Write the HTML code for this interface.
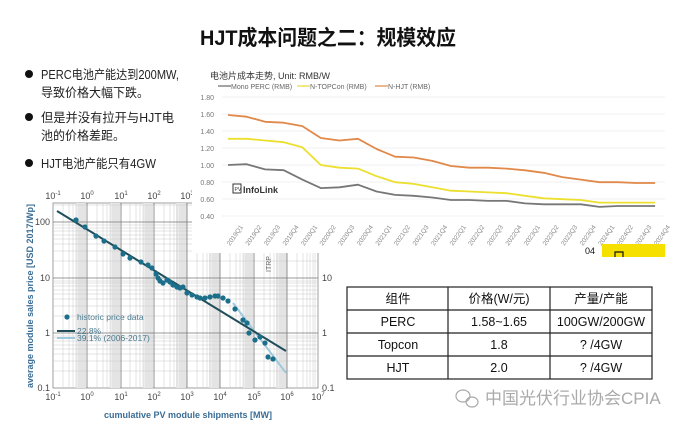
<!DOCTYPE html>
<html><head><meta charset="utf-8">
<style>
body{margin:0;width:680px;height:429px;background:#fff;overflow:hidden;font-family:"Liberation Sans","Noto Sans CJK SC",sans-serif;}
svg{position:absolute;left:0;top:0}
</style></head><body>
<svg width="680" height="429" viewBox="0 0 680 429" xmlns="http://www.w3.org/2000/svg" font-family="Liberation Sans, Noto Sans CJK SC, sans-serif">
<!-- title -->
<text x="200" y="45" textLength="256" lengthAdjust="spacingAndGlyphs" font-size="21" font-weight="bold" fill="#111">HJT成本问题之二：规模效应</text>
<!-- bullets -->
<g font-size="12.5" fill="#222">
<circle cx="29" cy="74" r="4" fill="#111"/>
<text x="41" y="79" textLength="138" lengthAdjust="spacingAndGlyphs">PERC电池产能达到200MW,</text>
<text x="41" y="97" textLength="108" lengthAdjust="spacingAndGlyphs">导致价格大幅下跌。</text>
<circle cx="29" cy="117" r="4" fill="#111"/>
<text x="41" y="122" textLength="133" lengthAdjust="spacingAndGlyphs">但是并没有拉开与HJT电</text>
<text x="41" y="140" textLength="84" lengthAdjust="spacingAndGlyphs">池的价格差距。</text>
<circle cx="29" cy="163" r="4" fill="#111"/>
<text x="41" y="168" textLength="115" lengthAdjust="spacingAndGlyphs">HJT电池产能只有4GW</text>
</g>

<!-- log chart -->
<g id="log">
<rect x="53" y="203" width="265" height="185" fill="#fff" stroke="#888" stroke-width="0.8"/>
<g fill="#eeeeee">
<rect x="76" y="203" width="10" height="185"/><rect x="110" y="203" width="10" height="185"/><rect x="143" y="203" width="10" height="185"/><rect x="176" y="203" width="10" height="185"/><rect x="209" y="203" width="10" height="185"/><rect x="243" y="203" width="10" height="185"/><rect x="276" y="203" width="10" height="185"/>
</g>
<g stroke="#c8c8c8" stroke-width="0.5">
<path d="M63 203V388M69 203V388M73 203V388M76 203V388M79 203V388M81 203V388M83 203V388M85 203V388
M97 203V388M103 203V388M107 203V388M110 203V388M113 203V388M115 203V388M117 203V388M119 203V388
M130 203V388M136 203V388M140 203V388M143 203V388M146 203V388M148 203V388M150 203V388M152 203V388
M164 203V388M170 203V388M174 203V388M177 203V388M180 203V388M182 203V388M184 203V388M186 203V388
M197 203V388M203 203V388M207 203V388M210 203V388M213 203V388M215 203V388M217 203V388M219 203V388
M230 203V388M236 203V388M240 203V388M243 203V388M246 203V388M248 203V388M250 203V388M252 203V388
M264 203V388M270 203V388M274 203V388M277 203V388M280 203V388M282 203V388M284 203V388M286 203V388
M297 203V388M303 203V388M307 203V388M310 203V388M313 203V388M315 203V388"/>
<path d="M53 371H318M53 361H318M53 354H318M53 349H318M53 345H318M53 341H318M53 338H318M53 336H318
M53 316H318M53 306H318M53 299H318M53 294H318M53 290H318M53 286H318M53 283H318M53 281H318
M53 261H318M53 251H318M53 244H318M53 239H318M53 235H318M53 231H318M53 228H318M53 225H318
M53 205H318"/>
</g>
<g stroke="#777" stroke-width="0.8">
<path d="M87 203V388M121 203V388M154 203V388M187 203V388M220 203V388M254 203V388M287 203V388M53 222H318M53 278H318M53 333H318"/>
</g>
<line x1="233" y1="303" x2="286" y2="373" stroke="#9fc9dc" stroke-width="2"/>
<line x1="57" y1="211" x2="286" y2="351" stroke="#1f4e5a" stroke-width="2"/>
<g fill="#1b6f8a">
<circle cx="76" cy="220" r="2.6"/><circle cx="85" cy="227" r="2.6"/><circle cx="96" cy="236" r="2.6"/><circle cx="104" cy="241" r="2.6"/><circle cx="115" cy="247" r="2.6"/><circle cx="123" cy="254" r="2.6"/><circle cx="130" cy="258" r="2.6"/><circle cx="141" cy="262" r="2.6"/><circle cx="148" cy="265" r="2.6"/><circle cx="152" cy="268" r="2.6"/><circle cx="156" cy="274" r="2.6"/><circle cx="158" cy="278" r="2.6"/><circle cx="160" cy="281" r="2.6"/><circle cx="163" cy="283" r="2.6"/><circle cx="167" cy="280" r="2.6"/><circle cx="170" cy="282" r="2.6"/><circle cx="173" cy="285" r="2.6"/><circle cx="177" cy="287" r="2.6"/><circle cx="180" cy="288" r="2.6"/><circle cx="183" cy="287" r="2.6"/><circle cx="187" cy="293" r="2.6"/><circle cx="192" cy="295" r="2.6"/><circle cx="197" cy="297" r="2.6"/><circle cx="200" cy="298" r="2.6"/><circle cx="205" cy="298" r="2.6"/><circle cx="210" cy="297" r="2.6"/><circle cx="215" cy="296" r="2.6"/><circle cx="218" cy="296" r="2.6"/><circle cx="223" cy="298" r="2.6"/><circle cx="228" cy="301" r="2.6"/><circle cx="235" cy="309" r="2.6"/><circle cx="243" cy="320" r="2.6"/><circle cx="247" cy="323" r="2.6"/><circle cx="249" cy="333" r="2.6"/><circle cx="255" cy="340" r="2.6"/><circle cx="260" cy="337" r="2.6"/><circle cx="265" cy="343" r="2.6"/><circle cx="268" cy="357" r="2.6"/><circle cx="273" cy="359" r="2.6"/>
</g>
<circle cx="67" cy="317" r="2.6" fill="#1b6f8a"/>
<text x="77" y="320" font-size="8.5" fill="#4a7a90">historic price data</text>
<line x1="57" y1="331" x2="75" y2="331" stroke="#1f4e5a" stroke-width="2"/>
<text x="77" y="334" font-size="8.5" fill="#4a7a90">22.8%</text>
<line x1="57" y1="338" x2="75" y2="338" stroke="#9fc9dc" stroke-width="2"/>
<text x="77" y="341" font-size="8.5" fill="#4a7a90">39.1% (2006-2017)</text>
<text transform="translate(271,272) rotate(-90)" font-size="7" fill="#666">ITRP</text>
<g font-size="9" fill="#444" text-anchor="middle">
<text x="53" y="400">10<tspan font-size="6" dy="-4">-1</tspan></text>
<text x="87" y="400">10<tspan font-size="6" dy="-4">0</tspan></text>
<text x="121" y="400">10<tspan font-size="6" dy="-4">1</tspan></text>
<text x="154" y="400">10<tspan font-size="6" dy="-4">2</tspan></text>
<text x="187" y="400">10<tspan font-size="6" dy="-4">3</tspan></text>
<text x="220" y="400">10<tspan font-size="6" dy="-4">4</tspan></text>
<text x="254" y="400">10<tspan font-size="6" dy="-4">5</tspan></text>
<text x="287" y="400">10<tspan font-size="6" dy="-4">6</tspan></text>
<text x="318" y="400">10<tspan font-size="6" dy="-4">7</tspan></text>
<text x="53" y="199">10<tspan font-size="6" dy="-4">-1</tspan></text>
<text x="87" y="199">10<tspan font-size="6" dy="-4">0</tspan></text>
<text x="121" y="199">10<tspan font-size="6" dy="-4">1</tspan></text>
<text x="154" y="199">10<tspan font-size="6" dy="-4">2</tspan></text>
<text x="187" y="199">10<tspan font-size="6" dy="-4">3</tspan></text>
</g>
<g font-size="9" fill="#444" text-anchor="end">
<text x="50" y="225">100</text><text x="50" y="281">10</text><text x="50" y="336">1</text><text x="50" y="391">0.1</text>
</g>
<g font-size="9" fill="#444">
<text x="322" y="281">10</text><text x="322" y="336">1</text><text x="322" y="391">0.1</text>
</g>
<text x="188" y="418" text-anchor="middle" font-size="9" font-weight="bold" fill="#3a6d96">cumulative PV module shipments [MW]</text>
<text transform="translate(33,296) rotate(-90)" text-anchor="middle" font-size="9" font-weight="bold" fill="#3a6d96">average module sales price [USD 2017/Wp]</text>
</g>

<!-- top-right cost chart -->
<rect x="192" y="60" width="488" height="193" fill="#fff"/>
<text x="210" y="79" font-size="9" fill="#333">电池片成本走势, Unit: RMB/W</text>
<g font-size="7" fill="#666">
<line x1="218" y1="86" x2="231" y2="86" stroke="#666" stroke-width="1.2"/><text x="231" y="89">Mono PERC (RMB)</text>
<line x1="297" y1="86" x2="310" y2="86" stroke="#e8dc2a" stroke-width="1.2"/><text x="310" y="89">N-TOPCon (RMB)</text>
<line x1="375" y1="86" x2="388" y2="86" stroke="#e0894a" stroke-width="1.2"/><text x="388" y="89">N-HJT (RMB)</text>
</g>
<g stroke="#eee" stroke-width="0.8">
<path d="M222 97H665M222 114H665M222 131H665M222 148H665M222 165H665M222 182H665M222 199H665M222 216H665"/>
</g>
<g font-size="7" fill="#777" text-anchor="end">
<text x="214" y="100">1.80</text><text x="214" y="117">1.60</text><text x="214" y="134">1.40</text><text x="214" y="151">1.20</text><text x="214" y="168">1.00</text><text x="214" y="185">0.80</text><text x="214" y="202">0.60</text><text x="214" y="219">0.40</text>
</g>
<g fill="none" stroke-width="1.8" stroke-linejoin="round">
<polyline stroke="#e0894a" points="228,115 246.6,116.7 265.1,121.8 283.7,122.7 302.3,126.1 320.8,138 339.4,140.5 358,138.8 376.6,149 395.1,156.7 413.7,157.5 432.3,160.9 450.9,166 469.4,167.7 488,167.7 506.6,168.6 525.1,170.3 543.7,172.8 562.3,177.1 580.9,179.6 599.4,182.2 618,182.2 636.6,183 655.1,183"/>
<polyline stroke="#ecdf2e" points="228,138.8 246.6,138.8 265.1,140.5 283.7,142.2 302.3,147.3 320.8,165 339.4,167.7 358,168.6 376.6,176.2 395.1,182.2 413.7,183.9 432.3,187.3 450.9,190.7 469.4,191.5 488,192.4 506.6,193.2 525.1,195.8 543.7,198.3 562.3,199.2 580.9,200 599.4,202.6 618,202.6 636.6,202.6 655.1,202.6"/>
<polyline stroke="#777" points="228,165 246.6,164.2 265.1,169.4 283.7,170.2 302.3,179.6 320.8,188.1 339.4,187.3 358,184.7 376.6,191.5 395.1,194.9 413.7,195.8 432.3,197.5 450.9,200 469.4,200 488,200.9 506.6,200.9 525.1,203.4 543.7,204.3 562.3,204.3 580.9,204.3 599.4,206.9 618,206 636.6,206 655.1,206"/>
</g>
<rect x="233" y="184" width="8" height="9" fill="#fff" stroke="#333" stroke-width="1"/>
<text x="234.5" y="191" font-size="5" fill="#333">PV</text>
<text x="243" y="193" font-size="9" font-weight="bold" fill="#333">InfoLink</text>
<g font-size="6.5" fill="#888">
<text transform="translate(230,246) rotate(-55)">2019Q1</text><text transform="translate(248.6,246) rotate(-55)">2019Q2</text><text transform="translate(267.1,246) rotate(-55)">2019Q3</text><text transform="translate(285.7,246) rotate(-55)">2019Q4</text><text transform="translate(304.3,246) rotate(-55)">2020Q1</text><text transform="translate(322.8,246) rotate(-55)">2020Q2</text><text transform="translate(341.4,246) rotate(-55)">2020Q3</text><text transform="translate(360,246) rotate(-55)">2020Q4</text><text transform="translate(378.6,246) rotate(-55)">2021Q1</text><text transform="translate(397.1,246) rotate(-55)">2021Q2</text><text transform="translate(415.7,246) rotate(-55)">2021Q3</text><text transform="translate(434.3,246) rotate(-55)">2021Q4</text><text transform="translate(452.9,246) rotate(-55)">2022Q1</text><text transform="translate(471.4,246) rotate(-55)">2022Q2</text><text transform="translate(490,246) rotate(-55)">2022Q3</text><text transform="translate(508.6,246) rotate(-55)">2022Q4</text><text transform="translate(527.1,246) rotate(-55)">2023Q1</text><text transform="translate(545.7,246) rotate(-55)">2023Q2</text><text transform="translate(564.3,246) rotate(-55)">2023Q3</text><text transform="translate(582.9,246) rotate(-55)">2023Q4</text><text transform="translate(601.4,246) rotate(-55)">2024Q1</text><text transform="translate(620,246) rotate(-55)">2024Q2</text><text transform="translate(638.6,246) rotate(-55)">2024Q3</text><text transform="translate(657.1,246) rotate(-55)">2024Q4</text>
</g>
<rect x="602" y="244" width="63" height="13" fill="#f5e000"/>
<path d="M615 257v-5h8v5" fill="none" stroke="#111" stroke-width="1.2"/>
<text x="585" y="254" font-size="9" fill="#111">04</text>

<!-- table -->
<g stroke="#222" stroke-width="1.2" fill="none">
<rect x="347" y="287" width="305" height="92"/>
<path d="M347 310H652M347 333H652M347 356H652M448 287V379M550 287V379"/>
</g>
<g font-size="12.5" fill="#111" text-anchor="middle">
<text x="398" y="303">组件</text><text x="499" y="303">价格(W/元)</text><text x="601" y="303">产量/产能</text>
<text x="398" y="326">PERC</text><text x="499" y="326">1.58~1.65</text><text x="601" y="326">100GW/200GW</text>
<text x="398" y="349">Topcon</text><text x="499" y="349">1.8</text><text x="601" y="349">? /4GW</text>
<text x="398" y="372">HJT</text><text x="499" y="372">2.0</text><text x="601" y="372">? /4GW</text>
</g>
<g fill="none" stroke="#aaa" stroke-width="1.2">
<ellipse cx="463" cy="396" rx="7" ry="6"/><ellipse cx="472" cy="402" rx="6" ry="5"/>
</g>
<text x="485" y="404" font-size="17" fill="#aaa">中国光伏行业协会CPIA</text>
</svg>
</body></html>
